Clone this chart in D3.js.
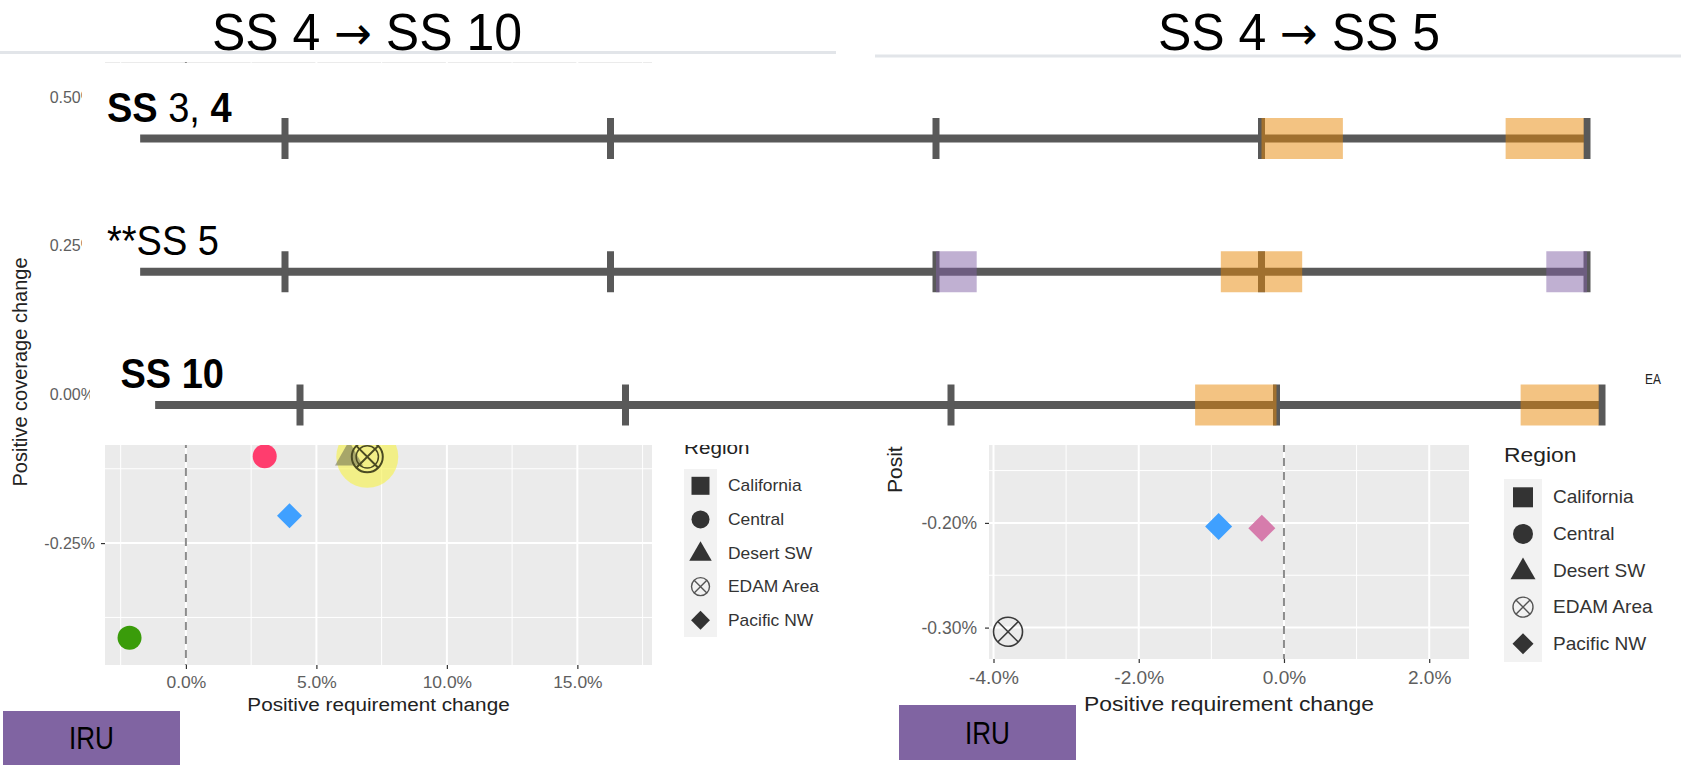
<!DOCTYPE html>
<html>
<head>
<meta charset="utf-8">
<script src="https://cdn.jsdelivr.net/npm/d3@7"></script>
<style>
  body { margin: 0; background: #fff; }
  svg { display: block; font-family: "Liberation Sans", Arial, Helvetica, sans-serif; }
</style>
</head>
<body>
<div id="chart"></div>
<script>
// ---- data ----
const panelTitles = [["SS 4", "SS 10"], ["SS 4", "SS 5"]];
const arrow = "\u2192";

// row labels, split in bold / regular runs
const rowLabels = [
  [{t: "SS", bold: true}, {t: " 3, ", bold: false}, {t: "4", bold: true}],
  [{t: "**SS 5", bold: false}],
  [{t: "SS 10", bold: true}]
];
const rowTicks = [0, 1, 2, 3, 4];
const rowStart = -0.445;

// highlighted windows on each timeline (in tick units)
const windowBoxes = [
  {row: 0, kind: "orange", from: 3.0,   to: 3.25},
  {row: 0, kind: "orange", from: 3.75,  to: 3.99},
  {row: 1, kind: "purple", from: 2.0,   to: 2.125},
  {row: 1, kind: "orange", from: 2.875, to: 3.125},
  {row: 1, kind: "purple", from: 3.875, to: 4.0},
  {row: 2, kind: "orange", from: 2.75,  to: 3.0},
  {row: 2, kind: "orange", from: 3.75,  to: 3.99}
];

const regions = ["California", "Central", "Desert SW", "EDAM Area", "Pacific NW"];
const pointGroups = ["red", "green", "blue", "pink", "grey", "edam"];

// positive requirement change (%) vs positive coverage change (%)
const leftPoints = [
  {region: "Central",    group: "red",   x: 3.02,  y: -0.104},
  {region: "Desert SW",  group: "grey",  x: 6.25,  y: -0.103},
  {region: "EDAM Area",  group: "edam",  x: 6.95,  y: -0.105, highlight: true},
  {region: "Pacific NW", group: "blue",  x: 3.97,  y: -0.204},
  {region: "Central",    group: "green", x: -2.16, y: -0.409}
];
const rightPoints = [
  {region: "EDAM Area",  group: "edam", x: -3.80,  y: -0.304},
  {region: "Pacific NW", group: "blue", x: -0.90,  y: -0.2035},
  {region: "Pacific NW", group: "pink", x: -0.305, y: -0.205}
];

const leftXTicks = [0, 5, 10, 15];
const leftXMinor = [-2.5, 2.5, 7.5, 12.5, 17.5];
const leftYTicks = [0.5, 0.25, 0, -0.25];
const leftYMinor = [0.375, 0.125, -0.125, -0.375];

const rightXTicks = [-4, -2, 0, 2];
const rightXMinor = [-3, -1, 1];
const rightYTicks = [0.2, 0.1, 0, -0.1, -0.2, -0.3];
const rightYMinor = [0.15, 0.05, -0.05, -0.15, -0.25];

const xTitle = "Positive requirement change";
const yTitle = "Positive coverage change";
const legendTitle = "Region";
const badgeText = "IRU";

// ---- drawing ----
const W = 1681, H = 765;
const svg = d3.select("#chart").append("svg")
  .attr("width", W)
  .attr("height", H);

const groupColor = d3.scaleOrdinal()
  .domain(pointGroups)
  .range(["#ff3d6e", "#3a9c0a", "#3fa0ff", "#d67cac", "#6a6a50", "#3a3a3a"]);

// plain hyphen for negatives, like R prints them
const locale = d3.formatLocale({decimal: ".", thousands: ",", grouping: [3], currency: ["", ""], minus: "-"});
const pct1 = d => locale.format(".1f")(d) + "%";
const pct2 = d => locale.format(".2f")(d) + "%";

// draws a ggplot-like symbol at 0,0 into g
function drawSymbol(g, region, size, fill, lw) {
  if (region === "California") {
    g.append("rect").attr("x", -size / 2).attr("y", -size / 2)
      .attr("width", size).attr("height", size).attr("fill", fill);
  } else if (region === "Central") {
    g.append("circle").attr("r", size / 2).attr("fill", fill);
  } else if (region === "Desert SW") {
    const h = size * 0.87;
    g.append("path")
      .attr("d", `M0,${-h * 0.6}L${size / 2},${h * 0.4}L${-size / 2},${h * 0.4}Z`)
      .attr("fill", fill);
  } else if (region === "EDAM Area") {
    const r = size / 2, k = r * Math.SQRT1_2;
    g.append("circle").attr("r", r).attr("fill", "none")
      .attr("stroke", fill).attr("stroke-width", lw || 1.4);
    g.append("path").attr("d", `M${-k},${-k}L${k},${k}M${k},${-k}L${-k},${k}`)
      .attr("stroke", fill).attr("stroke-width", lw || 1.4);
  } else if (region === "Pacific NW") {
    const s = size / 2;
    g.append("path").attr("d", `M0,${-s}L${s},0L0,${s}L${-s},0Z`).attr("fill", fill);
  }
}

function drawPanel(cfg) {
  const g = svg.append("g").attr("class", "panel");
  const x = d3.scaleLinear().domain(cfg.xDomain).range([cfg.left, cfg.right]);
  const y = d3.scaleLinear().domain(cfg.yDomain).range([cfg.bottom, cfg.top]);

  g.append("rect")
    .attr("x", cfg.left).attr("y", cfg.top)
    .attr("width", cfg.right - cfg.left).attr("height", cfg.bottom - cfg.top)
    .attr("fill", "#ebebeb");

  const grid = g.append("g").attr("class", "grid");
  grid.selectAll(".xminor").data(cfg.xMinor).join("line")
    .attr("x1", d => x(d)).attr("x2", d => x(d))
    .attr("y1", cfg.top).attr("y2", cfg.bottom)
    .attr("stroke", "#fff").attr("stroke-width", 1);
  grid.selectAll(".yminor").data(cfg.yMinor).join("line")
    .attr("y1", d => y(d)).attr("y2", d => y(d))
    .attr("x1", cfg.left).attr("x2", cfg.right)
    .attr("stroke", "#fff").attr("stroke-width", 1);
  grid.selectAll(".xmajor").data(cfg.xTicks).join("line")
    .attr("x1", d => x(d)).attr("x2", d => x(d))
    .attr("y1", cfg.top).attr("y2", cfg.bottom)
    .attr("stroke", "#fff").attr("stroke-width", 2);
  grid.selectAll(".ymajor").data(cfg.yTicks).join("line")
    .attr("y1", d => y(d)).attr("y2", d => y(d))
    .attr("x1", cfg.left).attr("x2", cfg.right)
    .attr("stroke", "#fff").attr("stroke-width", 2);

  // zero reference
  g.append("line")
    .attr("x1", x(0)).attr("x2", x(0))
    .attr("y1", cfg.top).attr("y2", cfg.bottom)
    .attr("stroke", "#8c8c8c").attr("stroke-width", 2)
    .attr("stroke-dasharray", "8,6");

  // axes
  const xAxis = g.append("g")
    .attr("transform", `translate(0,${cfg.bottom})`)
    .call(d3.axisBottom(x).tickValues(cfg.xTicks).tickFormat(pct1)
      .tickSize(4).tickPadding(cfg.xPad));
  const yAxis = g.append("g")
    .attr("transform", `translate(${cfg.left},0)`)
    .call(d3.axisLeft(y).tickValues(cfg.yTicks).tickFormat(pct2)
      .tickSize(4).tickPadding(cfg.yPad));
  [xAxis, yAxis].forEach(a => {
    a.select(".domain").remove();
    a.selectAll(".tick line").attr("stroke", "#333").attr("stroke-width", 1.2);
    a.selectAll("text")
      .attr("fill", "#5e5e5e")
      .style("font-size", cfg.tickFont + "px")
      .style("font-family", "inherit");
  });
  xAxis.selectAll("text").attr("transform", `scale(${cfg.sx},1)`);

  // axis titles
  g.append("text")
    .attr("transform", `translate(${(cfg.left + cfg.right) / 2},${cfg.xTitleY}) scale(${cfg.sx},1)`)
    .attr("text-anchor", "middle")
    .attr("fill", "#222")
    .style("font-size", cfg.titleFont + "px")
    .text(xTitle);
  g.append("text")
    .attr("transform", `translate(${cfg.yTitleX},${cfg.yTitleY}) rotate(-90)`)
    .attr("text-anchor", cfg.yTitleAnchor)
    .attr("fill", "#222")
    .style("font-size", cfg.yTitleFont + "px")
    .text(yTitle);

  // points: halo first, then the rest
  const pts = g.append("g").attr("class", "points");
  cfg.points.filter(p => p.highlight).forEach(p => {
    pts.append("circle")
      .attr("cx", x(p.x)).attr("cy", y(p.y)).attr("r", cfg.haloR)
      .attr("fill", "#f7f24a").attr("opacity", 0.62);
  });
  cfg.points.forEach(p => {
    const pg = pts.append("g").attr("transform", `translate(${x(p.x)},${y(p.y)})`);
    if (p.highlight) {
      drawSymbol(pg, p.region, cfg.edamSize, "#4a4a22", 2);
      pg.append("circle").attr("r", cfg.edamSize * 0.36)
        .attr("fill", "none").attr("stroke", "#4a4a22").attr("stroke-width", 1.5);
    } else if (p.region === "EDAM Area") {
      drawSymbol(pg, p.region, cfg.edamSize, groupColor(p.group), 1.6);
    } else if (p.region === "Desert SW") {
      pg.attr("opacity", 0.55);
      drawSymbol(pg, p.region, cfg.triSize, groupColor(p.group));
    } else if (p.region === "Pacific NW") {
      drawSymbol(pg, p.region, cfg.diamondSize, groupColor(p.group));
    } else {
      drawSymbol(pg, p.region, cfg.circleSize, groupColor(p.group));
    }
  });

  // legend
  const lg = svg.append("g").attr("class", "legend");
  const L = cfg.legend;
  lg.append("text")
    .attr("transform", `translate(${L.x},${L.titleY}) scale(${cfg.sx},1)`)
    .attr("fill", "#222")
    .style("font-size", L.titleFont + "px")
    .text(legendTitle);
  lg.append("rect")
    .attr("x", L.x).attr("y", L.bgTop)
    .attr("width", L.keyW).attr("height", L.step * regions.length)
    .attr("fill", "#f2f2f2");
  regions.forEach((r, i) => {
    const cy = L.bgTop + L.step * (i + 0.5);
    const kg = lg.append("g").attr("transform", `translate(${L.x + L.keyW / 2},${cy})`);
    const sz = r === "Desert SW" ? L.sym * 1.25 : (r === "Pacific NW" ? L.sym * 1.05 : L.sym);
    drawSymbol(kg, r, sz, r === "EDAM Area" ? "#555" : "#333");
    lg.append("text")
      .attr("transform", `translate(${L.x + L.keyW + L.gap},${cy}) scale(${cfg.sx},1)`)
      .attr("dy", "0.35em")
      .attr("fill", "#333")
      .style("font-size", L.font + "px")
      .text(r);
  });
}

drawPanel({
  left: 105, right: 652, top: 62, bottom: 665,
  xDomain: [-3.1, 17.86], yDomain: [-0.455, 0.559],
  xTicks: leftXTicks, xMinor: leftXMinor, yTicks: leftYTicks, yMinor: leftYMinor,
  xPad: 8, yPad: 6, tickFont: 16, titleFont: 19, sx: 1.09,
  xTitleY: 711, yTitleX: 27, yTitleY: 372, yTitleAnchor: "middle", yTitleFont: 20,
  points: leftPoints,
  haloR: 31, edamSize: 31, triSize: 28, diamondSize: 25, circleSize: 24,
  legend: {x: 684, titleY: 454, titleFont: 19, bgTop: 469, keyW: 33, step: 33.6,
           sym: 18, gap: 11, font: 16}
});

drawPanel({
  left: 989, right: 1469, top: 80, bottom: 659,
  xDomain: [-4.062, 2.548], yDomain: [-0.33, 0.2231],
  xTicks: rightXTicks, xMinor: rightXMinor, yTicks: rightYTicks, yMinor: rightYMinor,
  xPad: 9, yPad: 8, tickFont: 17.5, titleFont: 21, sx: 1.09,
  xTitleY: 711, yTitleX: 902, yTitleY: 493, yTitleAnchor: "start", yTitleFont: 21,
  points: rightPoints,
  haloR: 0, edamSize: 29, triSize: 28, diamondSize: 27, circleSize: 25,
  legend: {x: 1504, titleY: 462, titleFont: 21, bgTop: 479, keyW: 38, step: 36.6,
           sym: 20, gap: 11, font: 17.5}
});

// pasted timeline images cover the upper part of both plots
const covers = svg.append("g").attr("class", "covers");
covers.append("rect").attr("x", 82).attr("y", 63).attr("width", 1558).attr("height", 248).attr("fill", "#fff");
covers.append("rect").attr("x", 90).attr("y", 310).attr("width", 1548).attr("height", 135).attr("fill", "#fff");

svg.append("text")
  .attr("transform", "translate(1645,384) scale(0.85,1)")
  .attr("fill", "#222")
  .style("font-size", "14px")
  .text("EA");

// ---- timelines ----
const rowY = d3.scalePoint().domain([0, 1, 2]).range([138.5, 405]);
const rowShift = [0, 0, 15];
const tx = d3.scaleLinear().domain([0, 4]).range([285, 1587]);
const tickH = 41, boxH = 41;
const boxFill = {orange: "#e78705", purple: "#8161a5"};

const tl = svg.append("g").attr("class", "timelines");
rowLabels.forEach((parts, r) => {
  const y = rowY(r), dx = rowShift[r];
  const row = tl.append("g").attr("transform", `translate(${dx},0)`);
  row.append("line")
    .attr("x1", tx(rowStart)).attr("x2", tx(4))
    .attr("y1", y).attr("y2", y)
    .attr("stroke", "#595959").attr("stroke-width", 8);
  row.selectAll(".tk").data(rowTicks).join("line")
    .attr("x1", d => tx(d)).attr("x2", d => tx(d))
    .attr("y1", y - tickH / 2).attr("y2", y + tickH / 2)
    .attr("stroke", "#595959").attr("stroke-width", 7);
  row.selectAll(".box").data(windowBoxes.filter(b => b.row === r)).join("rect")
    .attr("x", d => tx(d.from)).attr("width", d => tx(d.to) - tx(d.from))
    .attr("y", y - boxH / 2).attr("height", boxH)
    .attr("fill", d => boxFill[d.kind]).attr("opacity", 0.5);

  const label = tl.append("text")
    .attr("transform", `translate(${107 + dx * 0.9},${y - 17}) scale(0.95,1.06)`)
    .attr("fill", "#000")
    .style("font-size", "40px");
  parts.forEach(p => label.append("tspan")
    .attr("font-weight", p.bold ? "bold" : "normal")
    .text(p.t));
});

// ---- slide titles ----
const titleX = [367, 1299];
const ruleSpans = [[0, 836, 52.5], [875, 1681, 56]];
ruleSpans.forEach(s => svg.append("line")
  .attr("x1", s[0]).attr("x2", s[1]).attr("y1", s[2]).attr("y2", s[2])
  .attr("stroke", "#e2e5e9").attr("stroke-width", 3));
panelTitles.forEach((t, i) => {
  const tt = svg.append("text")
    .attr("transform", `translate(${titleX[i]},50) scale(0.98,1)`)
    .attr("text-anchor", "middle")
    .attr("fill", "#000")
    .style("font-size", "51px");
  tt.append("tspan").text(t[0] + " ");
  tt.append("tspan").style("font-family", '"DejaVu Sans", sans-serif')
    .style("font-size", "46px").attr("dy", -1).text(arrow);
  tt.append("tspan").attr("dy", 1).text(" " + t[1]);
});

// ---- IRU badges ----
const badges = [{x: 3, y: 711, w: 177, h: 54}, {x: 899, y: 705, w: 177, h: 55}];
badges.forEach(b => {
  svg.append("rect").attr("x", b.x).attr("y", b.y).attr("width", b.w).attr("height", b.h)
    .attr("fill", "#8064a2");
  svg.append("text")
    .attr("transform", `translate(${b.x + b.w / 2},${b.y + b.h / 2}) scale(0.9,1.08)`)
    .attr("dy", "0.36em")
    .attr("text-anchor", "middle")
    .attr("fill", "#000")
    .style("font-size", "29px")
    .text(badgeText);
});
</script>
</body>
</html>
